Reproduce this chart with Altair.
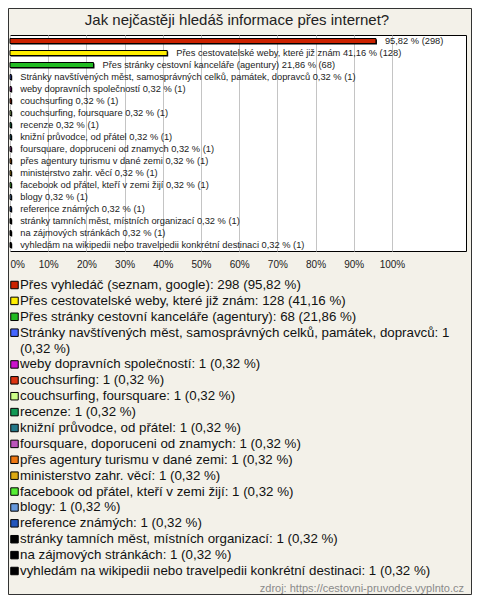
import altair as alt
import pandas as pd

title = "Jak nejčastěji hledáš informace přes internet?"
categories = [
    "Přes vyhledáč (seznam, google)",
    "Přes cestovatelské weby, které již znám",
    "Přes stránky cestovní kanceláře (agentury)",
    "Stránky navštívených měst, samosprávných celků, památek, dopravců",
    "weby dopravních společností",
    "couchsurfing",
    "couchsurfing, foursquare",
    "recenze",
    "knižní průvodce, od přátel",
    "foursquare, doporuceni od znamych",
    "přes agentury turismu v dané zemi",
    "ministerstvo zahr. věcí",
    "facebook od přátel, kteří v zemi žijí",
    "blogy",
    "reference známých",
    "stránky tamních měst, místních organizací",
    "na zájmových stránkách",
    "vyhledám na wikipedii nebo travelpedii konkrétní destinaci",
]
counts = [298, 128, 68, 1, 1, 1, 1, 1, 1, 1, 1, 1, 1, 1, 1, 1, 1, 1]
percents = [95.82, 41.16, 21.86, 0.32, 0.32, 0.32, 0.32, 0.32, 0.32, 0.32,
            0.32, 0.32, 0.32, 0.32, 0.32, 0.32, 0.32, 0.32]
colors = ["#cc2200", "#ffee00", "#22bb22", "#4466ff", "#cc11cc", "#dd3311",
          "#ccff88", "#119955", "#227788", "#bb55bb", "#ee7711", "#ddaa11",
          "#55ee33", "#6699dd", "#2255bb", "#000000", "#000000", "#000000"]
tick_values = [0, 10, 20, 30, 40, 50, 60, 70, 80, 90, 100]
source_text = "zdroj: https://cestovni-pruvodce.vyplnto.cz"

FONT = "Liberation Sans"


def fmt(v):
    return f"{v:.2f}".replace(".", ",")


rows = []
for i, (cat, c, p) in enumerate(zip(categories, counts, percents)):
    lab = f"{fmt(p)} % ({c})" if i == 0 else f"{cat} {fmt(p)} % ({c})"
    rows.append({"cat": cat, "pct": p, "count": c, "label": lab})
bar_df = pd.DataFrame(rows)

legend_rows = []
for cat, c, p, col in zip(categories, counts, percents, colors):
    full = f"{cat}: {c} ({fmt(p)} %)"
    if len(full) > 72:
        cut = full.rfind(" ", 0, 72)
        parts = [full[:cut], full[cut + 1:]]
    else:
        parts = [full]
    for k, part in enumerate(parts):
        legend_rows.append({"line": len(legend_rows), "text": part,
                            "color": col if k == 0 else ""})
legend_df = pd.DataFrame(legend_rows)
line_domain = list(range(len(legend_rows)))

x_scale = alt.Scale(domain=[0, 119.4], nice=False, zero=True)
y_bar = alt.Y("cat:N", sort=categories, axis=None,
              scale=alt.Scale(domain=categories, paddingInner=0, paddingOuter=0))

base = alt.Chart(bar_df)

shadow = base.mark_bar(size=5, color="#000000", yOffset=1, xOffset=1).encode(
    x=alt.X("pct:Q", scale=x_scale,
            axis=alt.Axis(values=tick_values, format="d", labelExpr="datum.value + '%'",
                          grid=True, gridColor="#c4c4c4", gridWidth=1,
                          ticks=False, domain=False, labelPadding=8,
                          labelFont=FONT, labelFontSize=10, labelColor="#222",
                          labelFlush=True, title=None)),
    y=y_bar,
)
bars = base.mark_bar(size=5, stroke="#000000", strokeWidth=1).encode(
    x=alt.X("pct:Q", scale=x_scale),
    y=y_bar,
    fill=alt.Fill("cat:N", scale=alt.Scale(domain=categories, range=colors), legend=None),
)
labels = base.mark_text(align="left", baseline="middle", dx=9, font=FONT,
                        fontSize=9.3, color="#222").encode(
    x=alt.X("pct:Q", scale=x_scale),
    y=y_bar,
    text="label:N",
)
bar_layer = alt.layer(shadow, bars, labels)

y_leg = alt.Y("line:O", axis=None,
              scale=alt.Scale(type="point", domain=line_domain, range=[250, 536], padding=0))
leg_base = alt.Chart(legend_df)
swatches = leg_base.mark_square(size=56, stroke="#000000", strokeWidth=1,
                                opacity=1, filled=True).transform_filter(
    "datum.color != ''").encode(
    x=alt.value(4.5),
    y=y_leg,
    fill=alt.Fill("color:N", scale=None),
)
leg_text = leg_base.mark_text(align="left", baseline="middle", font=FONT,
                              fontSize=13.3, color="#111").encode(
    x=alt.value(10),
    y=y_leg,
    text="text:N",
)
legend_layer = alt.layer(swatches, leg_text)

one = pd.DataFrame({"k": [0]})
border = alt.Chart(one).mark_rect(fillOpacity=0, stroke="#333333", strokeWidth=1).encode(
    x=alt.value(-1.5), x2=alt.value(461.5), y=alt.value(-26.5), y2=alt.value(559.5)
)
title_mark = alt.Chart(one).mark_text(align="center", baseline="middle", font=FONT,
                                      fontSize=15, color="#222").encode(
    x=alt.value(227), y=alt.value(-15), text=alt.value(title)
)
footer = alt.Chart(one).mark_text(align="right", baseline="middle", font=FONT,
                                  fontSize=11, color="#8a8a8a").encode(
    x=alt.value(454), y=alt.value(554), text=alt.value(source_text)
)

chart = alt.layer(border, title_mark, bar_layer, legend_layer, footer).resolve_scale(
    y="independent"
).properties(
    width=456,
    height=216,
    padding={"left": 2, "top": 27, "right": 6, "bottom": 344},
    autosize=alt.AutoSizeParams(type="none"),
).configure(background="#f3f1e9").configure_view(
    stroke="#000000", strokeWidth=1, fill="white"
)

chart.save("out.html", embed_options={"renderer": "svg", "actions": False})
